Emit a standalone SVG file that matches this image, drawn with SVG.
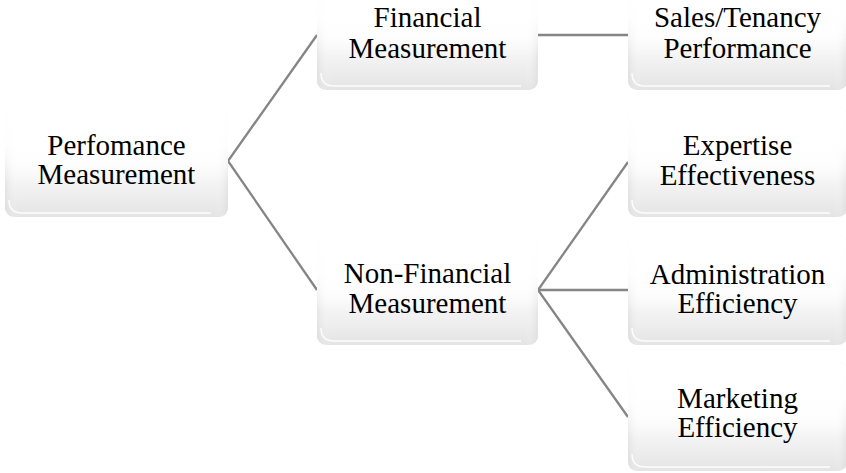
<svg xmlns="http://www.w3.org/2000/svg" width="846" height="473" viewBox="0 0 846 473">
  <defs>
    <linearGradient id="boxFill" x1="0" y1="0" x2="0" y2="1">
      <stop offset="0" stop-color="#ffffff"/>
      <stop offset="0.5" stop-color="#fdfdfd"/>
      <stop offset="1" stop-color="#e4e4e4"/>
    </linearGradient>
    <linearGradient id="edgeShade" x1="0" y1="0" x2="1" y2="0">
      <stop offset="0" stop-color="#d4d4d4" stop-opacity="0.45"/>
      <stop offset="0.06" stop-color="#ffffff" stop-opacity="0"/>
      <stop offset="0.94" stop-color="#ffffff" stop-opacity="0"/>
      <stop offset="1" stop-color="#d4d4d4" stop-opacity="0.45"/>
    </linearGradient>
    <linearGradient id="topFade" x1="0" y1="0" x2="0" y2="1">
      <stop offset="0" stop-color="#ffffff" stop-opacity="1"/>
      <stop offset="0.35" stop-color="#ffffff" stop-opacity="0.9"/>
      <stop offset="0.7" stop-color="#ffffff" stop-opacity="0"/>
    </linearGradient>
  </defs>
  <style>
    .box { fill: url(#boxFill); }
    .edge { fill: url(#edgeShade); }
    .fade { fill: url(#topFade); }
    .rim { fill: none; stroke: #ffffff; stroke-width: 1.5; stroke-opacity: 0.9; }
    .lbl { font-family: "Liberation Serif", "Times New Roman", serif; font-size: 29px; fill: #000000; text-anchor: middle; }
    .conn { stroke: #858585; stroke-width: 2.3; fill: none; }
  </style>
  <rect width="846" height="473" fill="#ffffff"/>

  <g id="connectors">
    <path class="conn" d="M317,35 L228,161 L317,290"/>
    <path class="conn" d="M538,35 L628,35"/>
    <path class="conn" d="M628,162 L538,290 L628,417"/>
    <path class="conn" d="M538,290 L628,290"/>
  </g>

  <g id="perfomance-measurement">
    <rect class="box" x="5" y="106" width="223" height="111" rx="9"/>
    <rect class="edge" x="5" y="106" width="223" height="111" rx="9"/>
    <rect class="fade" x="5" y="106" width="223" height="111" rx="9"/>
    <path class="rim" d="M9,200 Q9,213 22,213 L211,213"/>
    <text class="lbl" x="116.5" y="155">Perfomance</text>
    <text class="lbl" x="116.5" y="184">Measurement</text>
  </g>

  <g id="financial-measurement">
    <rect class="box" x="317" y="-20" width="221" height="110" rx="9"/>
    <rect class="edge" x="317" y="-20" width="221" height="110" rx="9"/>
    <rect class="fade" x="317" y="-20" width="221" height="110" rx="9"/>
    <path class="rim" d="M321,73 Q321,86 334,86 L521,86"/>
    <text class="lbl" x="427.5" y="27">Financial</text>
    <text class="lbl" x="427.5" y="58">Measurement</text>
  </g>

  <g id="non-financial-measurement">
    <rect class="box" x="317" y="235" width="221" height="110" rx="9"/>
    <rect class="edge" x="317" y="235" width="221" height="110" rx="9"/>
    <rect class="fade" x="317" y="235" width="221" height="110" rx="9"/>
    <path class="rim" d="M321,328 Q321,341 334,341 L521,341"/>
    <text class="lbl" x="427.5" y="283">Non-Financial</text>
    <text class="lbl" x="427.5" y="313">Measurement</text>
  </g>

  <g id="sales-tenancy-performance">
    <rect class="box" x="628" y="-20" width="219" height="110" rx="9"/>
    <rect class="edge" x="628" y="-20" width="219" height="110" rx="9"/>
    <rect class="fade" x="628" y="-20" width="219" height="110" rx="9"/>
    <path class="rim" d="M632,73 Q632,86 645,86 L830,86"/>
    <text class="lbl" x="737.5" y="27">Sales/Tenancy</text>
    <text class="lbl" x="737.5" y="58">Performance</text>
  </g>

  <g id="expertise-effectiveness">
    <rect class="box" x="628" y="107" width="219" height="110" rx="9"/>
    <rect class="edge" x="628" y="107" width="219" height="110" rx="9"/>
    <rect class="fade" x="628" y="107" width="219" height="110" rx="9"/>
    <path class="rim" d="M632,200 Q632,213 645,213 L830,213"/>
    <text class="lbl" x="737.5" y="155">Expertise</text>
    <text class="lbl" x="737.5" y="185">Effectiveness</text>
  </g>

  <g id="administration-efficiency">
    <rect class="box" x="628" y="235" width="219" height="110" rx="9"/>
    <rect class="edge" x="628" y="235" width="219" height="110" rx="9"/>
    <rect class="fade" x="628" y="235" width="219" height="110" rx="9"/>
    <path class="rim" d="M632,328 Q632,341 645,341 L830,341"/>
    <text class="lbl" x="737.5" y="284">Administration</text>
    <text class="lbl" x="737.5" y="313">Efficiency</text>
  </g>

  <g id="marketing-efficiency">
    <rect class="box" x="628" y="361" width="219" height="110" rx="9"/>
    <rect class="edge" x="628" y="361" width="219" height="110" rx="9"/>
    <rect class="fade" x="628" y="361" width="219" height="110" rx="9"/>
    <path class="rim" d="M632,454 Q632,467 645,467 L830,467"/>
    <text class="lbl" x="737.5" y="408">Marketing</text>
    <text class="lbl" x="737.5" y="437">Efficiency</text>
  </g>
</svg>
